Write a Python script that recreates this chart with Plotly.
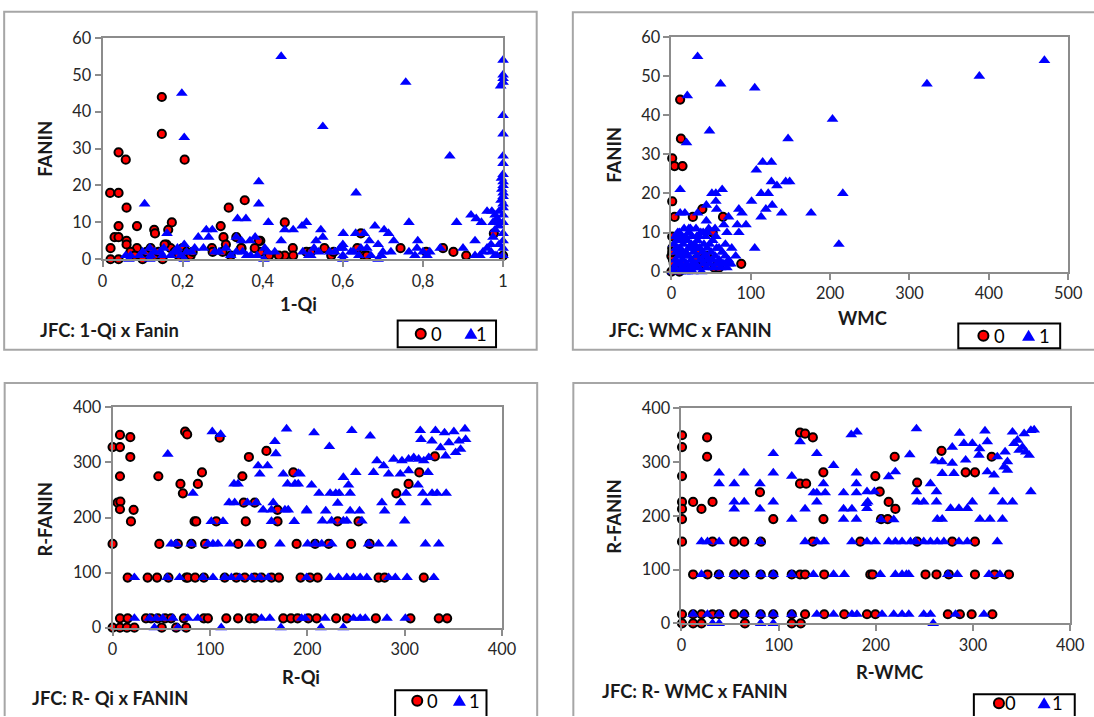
import plotly.graph_objects as go

# ---------------- data: JFC metrics, class 0 vs class 1 ----------------
# 1-Qi x FANIN
qi_fanin_0 = [
    (0.148, 44), (0.148, 34), (0.04, 29), (0.058, 27), (0.205, 27), (0.019, 18), (0.04, 18),
    (0.06, 14), (0.04, 9), (0.086, 9), (0.355, 16), (0.315, 14), (0.295, 9), (0.173, 10),
    (0.164, 8), (0.129, 8), (0.131, 7), (0.03, 6), (0.04, 6), (0.06, 5), (0.06, 4), (0.02, 3),
    (0.086, 3), (0.02, 0), (0.04, 0), (0.455, 10), (0.302, 6), (0.308, 4), (0.334, 6),
    (0.347, 3), (0.394, 5), (0.273, 3), (0.275, 2), (0.30, 2), (0.394, 2), (0.416, 1),
    (0.455, 1), (0.475, 3), (0.476, 1), (0.509, 2), (0.554, 3), (0.571, 1), (0.577, 2),
    (0.636, 3), (0.645, 7), (0.653, 1), (0.744, 3), (0.808, 2), (0.85, 3), (0.876, 2),
    (0.908, 1), (0.977, 7), (1.0, 1), (0.07, 2), (0.08, 1), (0.10, 0), (0.11, 2), (0.12, 3),
    (0.13, 1), (0.14, 2), (0.15, 0), (0.16, 4), (0.17, 3), (0.18, 2), (0.19, 1), (0.20, 3),
    (0.21, 2), (0.22, 1), (0.225, 2), (0.155, 4), (0.346, 3), (0.39, 5), (0.32, 1), (0.38, 3),
    (0.44, 1), (0.52, 2), (0.66, 1),
]
qi_fanin_1 = [
    (0.446, 55), (0.198, 45), (0.204, 33), (0.55, 36), (0.757, 48), (0.867, 28), (0.633, 18),
    (0.39, 21), (0.39, 15), (0.105, 15),
    (1, 54), (1, 50), (1, 49), (0.994, 47), (1, 48), (1, 39), (1, 34), (1, 28), (1, 26),
    (1, 23), (0.996, 22), (1, 21), (1, 20), (0.997, 19), (1, 18), (1, 17), (0.995, 16),
    (1, 15), (1, 14), (0.99, 13), (1, 12), (0.985, 11), (1, 10), (0.99, 9), (0.98, 8), (1, 7),
    (0.975, 6), (1, 5), (0.99, 4), (1, 3), (0.97, 2), (1, 1), (0.985, 1), (0.99, 10),
    (0.98, 12), (0.975, 10),
    (0.96, 13), (0.972, 13), (0.92, 12), (0.933, 11), (0.946, 10), (0.884, 10), (0.765, 10),
    (0.68, 9), (0.703, 8), (0.714, 7), (0.727, 5), (0.601, 7), (0.632, 7), (0.653, 7),
    (0.666, 5), (0.688, 4), (0.6, 4), (0.6, 3), (0.6, 1), (0.6, 0), (0.509, 10), (0.498, 9),
    (0.476, 8), (0.455, 8), (0.545, 8), (0.55, 6), (0.533, 5), (0.528, 3), (0.414, 10),
    (0.358, 11), (0.337, 11), (0.334, 6), (0.347, 5), (0.381, 6), (0.368, 5), (0.405, 3),
    (0.403, 0), (0.446, 5), (0.259, 8), (0.274, 8), (0.239, 6), (0.265, 6), (0.161, 7),
    (0.252, 3), (0.204, 4), (0.204, 0), (0.765, 2), (0.78, 1), (0.787, 5), (0.785, 3),
    (0.817, 2), (0.843, 3), (0.9, 3), (0.93, 5), (0.942, 1), (0.96, 3), (0.688, 0),
    (0.058, 1), (0.066, 0), (0.092, 1), (0.118, 0), (0.118, 3), (0.144, 2), (0.153, 3),
    (0.179, 2), (0.187, 3), (0.196, 1), (0.222, 2), (0.291, 2), (0.308, 3), (0.334, 2),
    (0.36, 1), (0.386, 1), (0.412, 2), (0.515, 1), (0.567, 2), (0.593, 3), (0.627, 2),
    (0.645, 3), (0.67, 1), (0.696, 1), (0.81, 1), (0.98, 1),
    (0.13, 2), (0.17, 1), (0.21, 2), (0.23, 3), (0.28, 2), (0.32, 1), (0.35, 2), (0.37, 1),
    (0.43, 2), (0.5, 2), (0.52, 1), (0.54, 2), (0.58, 2), (0.62, 2), (0.64, 1), (0.66, 3),
    (0.7, 2), (0.72, 2), (0.8, 2), (0.93, 1), (0.95, 2), (0.97, 4), (0.07, 1), (0.1, 2),
    (0.12, 1), (0.15, 1), (0.186, 2),
]

# WMC x FANIN
wmc_fanin_0 = [
    (11, 44), (12, 34), (1, 29), (4, 27), (14, 27), (1, 18), (4, 14), (27, 14), (39, 16),
    (65, 14), (52, 10), (1, 9), (1, 6), (0, 4), (88, 2), (54, 1), (0, 0), (2, 3), (5, 1),
    (30, 3), (40, 2), (60, 1), (1, 5), (3, 2), (10, 0), (20, 1), (58, 2), (45, 4), (35, 5),
    (15, 2),
]
wmc_fanin_1 = [
    (33, 55), (20, 45), (62, 48), (105, 47), (322, 48), (388, 50), (470, 54), (203, 39),
    (48, 36), (147, 34), (19, 33), (107, 26), (115, 28), (126, 28), (126, 23), (133, 22),
    (144, 23), (149, 23), (216, 20), (113, 20), (122, 20), (101, 18), (119, 16), (127, 17),
    (176, 15), (139, 15), (113, 14), (85, 16), (89, 15), (83, 12), (94, 12), (85, 10),
    (105, 6), (211, 7), (11, 21), (11, 15), (17, 15), (51, 20), (56, 20), (64, 21), (44, 17),
    (56, 18), (57, 16), (72, 14), (66, 12), (70, 10), (68, 7), (76, 6), (81, 4), (72, 2),
    (33, 15), (44, 13), (22, 11), (6, 6),
    (2, 0), (4, 1), (5, 3), (6, 5), (7, 8), (8, 10), (9, 2), (10, 4), (11, 6), (12, 9),
    (13, 1), (14, 3), (15, 7), (16, 11), (17, 0), (18, 5), (19, 2), (20, 8), (21, 4),
    (22, 10), (23, 1), (24, 6), (25, 3), (26, 9), (27, 0), (28, 5), (29, 7), (30, 2),
    (31, 11), (32, 4), (33, 8), (34, 1), (35, 6), (36, 3), (37, 10), (38, 0), (39, 5),
    (40, 2), (41, 7), (42, 4), (43, 9), (44, 1), (45, 6), (46, 3), (47, 11), (48, 2),
    (50, 5), (52, 8), (53, 1), (55, 4), (57, 6), (58, 2), (60, 3), (62, 1), (64, 5), (66, 2),
    (68, 4), (70, 1), (72, 3), (3, 7), (5, 9), (8, 6), (10, 10), (12, 2), (14, 8), (18, 9),
    (20, 0), (24, 11), (26, 2), (30, 6), (32, 9), (36, 6), (40, 10), (44, 4), (48, 7),
    (52, 3), (56, 9), (60, 6), (64, 2), (75, 2), (15, 4), (25, 7), (35, 9), (45, 10),
    (55, 11), (28, 1), (38, 3), (12, 5), (16, 1), (22, 6), (6, 2), (9, 8), (11, 0),
]

# R-Qi x R-FANIN
rqi_rfanin_0 = [
    (0, 328), (7.6, 328), (7.6, 350), (18.2, 346), (18.2, 310), (7.6, 275), (5.2, 227),
    (8, 229), (7.6, 215), (21.6, 214), (18.9, 193), (0, 152), (74.5, 356), (76.6, 351),
    (47, 275), (69.7, 261), (72.2, 244), (87.6, 261), (91.8, 282), (84.2, 193), (85.9, 193),
    (106.5, 193), (110, 345), (140, 310), (158, 321), (133.3, 275), (134.7, 227), (146, 227),
    (136.8, 193), (169.4, 214), (169.4, 193), (185.6, 282), (331, 311), (315, 282),
    (304, 261), (291.4, 244), (231.2, 193), (252.6, 193),
    (48, 152), (67, 152), (81, 152), (95, 152), (129, 152), (153, 152), (189, 152),
    (208, 152), (222, 152), (245, 152), (264, 152),
    (15.5, 91), (36, 91), (45.7, 91), (57.4, 91), (75.6, 91), (77.3, 91), (84.8, 91),
    (93.8, 91), (115.2, 91), (127.1, 91), (135.8, 91), (146, 91), (152.9, 91), (163.2, 91),
    (170.8, 91), (193.1, 91), (202.8, 91), (210.6, 91), (273.2, 91), (279.4, 91), (319.6, 91),
    (7.6, 17), (15.5, 17), (34.3, 17), (39.5, 17), (46.4, 17), (53.9, 17), (60.1, 17),
    (73.2, 17), (93.8, 17), (97.9, 17), (116.8, 17), (128.9, 17), (140.9, 17), (146, 17),
    (175.3, 17), (183.2, 17), (190, 17), (201, 17), (209.6, 17), (229.6, 17), (240.5, 17),
    (270.4, 17), (305.9, 17), (335, 17), (343.6, 17),
    (0, 0), (7.6, 0), (14.7, 0), (22.4, 0), (50.5, 0), (65.3, 0), (75.6, 0),
]
rqi_rfanin_1 = [
    (56.7, 315), (102.4, 356), (111, 351), (178.7, 361), (166.7, 338), (167.7, 316),
    (149.5, 294), (159.1, 294), (151.2, 279), (175.3, 279), (192.5, 279), (179.7, 261),
    (187.3, 261), (190.7, 261), (124.7, 261), (128.9, 261), (82.5, 244), (119.6, 227),
    (125.4, 227), (138.5, 227), (147.7, 227), (165, 227), (154.6, 214), (163.2, 214),
    (177, 214), (180.4, 214), (199.3, 214), (101.4, 193), (113.4, 193), (163.2, 193),
    (186.6, 193),
    (206.9, 354), (245.7, 358), (222.7, 329), (264.6, 348), (316, 358), (316.8, 342),
    (331.6, 358), (340.9, 354), (350.5, 356), (361.9, 361), (328, 339), (336.8, 327),
    (345.4, 336), (355.7, 339), (362.6, 342), (342, 312), (352.3, 318), (357.4, 324),
    (271.5, 303), (278.4, 294), (288.7, 306), (297.2, 303), (304, 306), (309.3, 309),
    (314.4, 306), (319.6, 303), (324.7, 309), (268, 282), (283.5, 279), (295.5, 279),
    (304, 285), (324, 282), (237, 273), (249.8, 282), (242.3, 259), (232.7, 244),
    (204.4, 259), (212, 244), (223.4, 244), (229.2, 244), (244, 244), (190.7, 280),
    (199.3, 212), (218.9, 212), (231.2, 226), (244, 212), (253.6, 212), (276.6, 227),
    (279.4, 212), (295.6, 227), (301.4, 244), (313.7, 259), (318.6, 244), (328.1, 244),
    (333.3, 244), (342.6, 244), (322, 227), (215.5, 194), (225, 194), (237, 194),
    (240.5, 194), (256, 194), (300, 194),
    (60.1, 152), (65.3, 152), (80.7, 152), (97.9, 152), (103.1, 152), (108.2, 152),
    (120.3, 152), (140.9, 152), (171.9, 152), (200.3, 152), (208, 152), (214.8, 152),
    (225, 152), (262.9, 152), (273.2, 152), (286.9, 152), (321.3, 152), (335, 152),
    (22.4, 91), (56, 91), (68.8, 91), (92.8, 91), (103.1, 91), (115.2, 91), (122, 91),
    (130.6, 91), (142.6, 91), (151.2, 91), (159.8, 91), (199.3, 91), (223.4, 91), (232, 91),
    (240.5, 91), (247.4, 91), (254.3, 91), (261.1, 91), (283.5, 91), (290.4, 91),
    (302.4, 91), (329.9, 91),
    (22.4, 17), (37.8, 17), (44.7, 17), (51.5, 17), (61.9, 17), (77.3, 17), (87.6, 17),
    (152.9, 17), (161.5, 17), (194.1, 17), (197.6, 17), (218.2, 17), (247.4, 17),
    (254.3, 17), (259.5, 17), (281.8, 17), (300.7, 17),
    (43, 0), (67, 0), (111.6, 0), (172.9, 0), (214, 0), (237, 0),
]

# R-WMC x R-FANIN
rwmc_rfanin_0 = [
    (0.6, 350), (0.6, 328), (0.6, 274), (0.6, 226), (0.6, 213), (0.6, 194), (0.6, 152),
    (0.6, 17), (0.6, 0), (26.4, 346), (26.4, 310), (12, 226), (20.6, 213), (32, 226),
    (80.8, 244), (122, 355), (127.2, 353), (135.2, 346), (122, 260), (128.3, 260),
    (146, 281), (94.5, 194), (146.1, 194), (267.6, 321), (219.4, 310), (199.5, 274),
    (204, 245), (213.2, 226), (220.1, 213), (242.5, 262), (292.4, 281), (302, 281),
    (319.2, 310), (205.4, 194), (212.2, 194),
    (32, 152), (54.3, 152), (64.6, 152), (81.8, 152), (135.2, 152), (184, 152),
    (242.5, 152), (278.6, 152), (302, 152),
    (12, 91), (26.8, 91), (38.5, 91), (54.3, 91), (64.6, 91), (81.5, 91), (94.5, 91),
    (113.5, 91), (122.1, 91), (127.2, 91), (146.9, 91), (194.3, 91), (196.7, 91),
    (251.1, 91), (262.4, 91), (275.1, 91), (302, 91), (322.3, 91), (337, 91),
    (12, 17), (20.6, 17), (32, 17), (38.8, 17), (54.3, 17), (64.6, 17), (81.5, 17),
    (94.5, 17), (113.5, 17), (127.2, 17), (146.9, 17), (167.5, 17), (190.9, 17),
    (199.5, 17), (274.1, 17), (286.5, 17), (298.6, 17), (319.9, 17),
    (12, 0), (20.6, 0), (65.3, 0), (113.5, 0), (122.8, 0),
]
rwmc_rfanin_1 = [
    (174.7, 351), (180.6, 356), (122, 338), (94.5, 316), (139.3, 316), (156.5, 294),
    (38.8, 280), (64.3, 280), (94.5, 280), (113.5, 274), (180, 280), (38.8, 260),
    (54.3, 260), (80.8, 260), (146.1, 260), (180, 260), (54.3, 226), (64.6, 226),
    (94.5, 226), (139.3, 226), (191.7, 226), (54.3, 213), (80.8, 213), (127.2, 213),
    (166.8, 213), (175.4, 213), (135.8, 243), (139.3, 243), (147.9, 243), (166.8, 243),
    (180, 243), (113.5, 194), (166.8, 194), (180, 194),
    (241.8, 362), (286.2, 354), (312.3, 358), (234.9, 314), (261.4, 302), (268.3, 301),
    (278.6, 298), (292.4, 304), (306.8, 325), (314.7, 338), (325, 310), (333, 319),
    (340.6, 356), (345.7, 341), (352.6, 353), (359.5, 359), (362.9, 360), (278.6, 328),
    (290.6, 335), (299.3, 335), (306.1, 313), (335.4, 285), (321.6, 276), (314.7, 282),
    (280.3, 279), (268.3, 279), (342.2, 335), (347.4, 322), (354.3, 319), (357.7, 313),
    (335.4, 301), (332, 291), (350.9, 328), (213.2, 273), (220.1, 282), (190.9, 245),
    (198.5, 245), (241.8, 245), (256.2, 260), (262.4, 245), (242.5, 226), (249.3, 226),
    (262.4, 226), (276.9, 214), (285.5, 214), (294.1, 214), (299.3, 226), (330.3, 226),
    (340.6, 226), (359.5, 245), (321.6, 245), (263.2, 194), (268.3, 194), (307.1, 194),
    (317.4, 194), (330.3, 194), (190.2, 223), (190.9, 214), (205.4, 193), (218.4, 193),
    (20.6, 152), (26.8, 152), (38.8, 152), (80.8, 152), (127.2, 152), (139.3, 152),
    (146.9, 152), (175.4, 152), (190.9, 152), (199.5, 152), (213.2, 152), (220.1, 152),
    (227, 152), (235.6, 152), (240.8, 152), (249.3, 152), (256.2, 152), (263.2, 152),
    (270, 152), (285.5, 152), (294.1, 152), (325, 152),
    (20.6, 91), (38.8, 91), (54.3, 91), (64.6, 91), (81.8, 91), (94.5, 91), (113.5, 91),
    (135.8, 91), (156.5, 91), (167.5, 91), (204.6, 91), (220.1, 91), (227, 91), (231.5, 91),
    (233.9, 91), (274.1, 91), (283.9, 91), (316.4, 91), (327.7, 91),
    (12, 17), (26.8, 17), (38.8, 17), (64.3, 17), (81.5, 17), (94.5, 17), (113.5, 17),
    (139.3, 17), (156.5, 17), (175.4, 17), (180.6, 17), (206.4, 17), (218.4, 17), (227, 17),
    (233.9, 17), (249.3, 17), (256.2, 17), (282, 17), (311.2, 17),
    (32, 0), (38.8, 0), (81.5, 0), (94.5, 0), (259, 0),
]

qi_ticks = [0, 0.2, 0.4, 0.6, 0.8, 1]
qi_ticktext = ["0", "0,2", "0,4", "0,6", "0,8", "1"]
class_names = ["0", "1"]

# ---------------- layout helpers ----------------
# positions below are given in screen pixels of a 1094x717 view; the page is shown
# slightly reduced (factor VIEW_SCALE) and the body keeps its default 8px margin
VIEW_W, VIEW_H = 1094, 717
VIEW_SCALE = 0.979
BODY_MARGIN = 8
W = int(round(VIEW_W / VIEW_SCALE - 2 * BODY_MARGIN))
H = int(round(VIEW_H / VIEW_SCALE - 2 * BODY_MARGIN))
K = 1 / VIEW_SCALE  # size factor for fonts and glyphs
FONT = "Lato, 'Open Sans', sans-serif"
GREY = "#8c8c8c"
RED, BLUE = "#ff0000", "#0000ff"


def px(x):
    """screen x (pixels) -> paper fraction"""
    return (x / VIEW_SCALE - BODY_MARGIN) / W


def py(y):
    """screen y (pixels, from top) -> paper fraction"""
    return 1 - (y / VIEW_SCALE - BODY_MARGIN) / H


panels = [
    dict(d0=qi_fanin_0, d1=qi_fanin_1, xr=[0, 1], yr=[0, 60], xd=(105, 504), yd=(258.5, 36),
         xdt=0.2, ydt=10),
    dict(d0=wmc_fanin_0, d1=wmc_fanin_1, xr=[0, 500], yr=[0, 60], xd=(671.7, 1067), yd=(271, 35),
         xdt=100, ydt=10),
    dict(d0=rqi_rfanin_0, d1=rqi_rfanin_1, xr=[0, 400], yr=[0, 400], xd=(115, 503), yd=(629, 407.5),
         xdt=100, ydt=100),
    dict(d0=rwmc_rfanin_0, d1=rwmc_rfanin_1, xr=[0, 400], yr=[0, 400], xd=(681.7, 1069), yd=(624.7, 408.5),
         xdt=100, ydt=100),
]

fig = go.Figure()
layout = dict(
    width=W, height=H, margin=dict(l=0, r=0, t=0, b=0),
    paper_bgcolor="white", plot_bgcolor="white",
    font=dict(family=FONT, color="#262626", size=16 * K),
    showlegend=False,
)

for i, p in enumerate(panels):
    n = "" if i == 0 else str(i + 1)
    xa, ya = "x" + n, "y" + n
    fig.add_trace(go.Scatter(
        x=[v[0] for v in p["d0"]], y=[v[1] for v in p["d0"]], xaxis=xa, yaxis=ya,
        mode="markers", name=class_names[0], cliponaxis=False,
        marker=dict(symbol="circle", size=8 * K, color=RED, line=dict(color="black", width=2)),
    ))
    fig.add_trace(go.Scatter(
        x=[v[0] for v in p["d1"]], y=[v[1] for v in p["d1"]], xaxis=xa, yaxis=ya,
        mode="markers", name=class_names[1], cliponaxis=False,
        marker=dict(symbol="triangle-up", size=10 * K, color=BLUE, line=dict(width=0)),
    ))
    axis_common = dict(
        showline=True, linecolor=GREY, linewidth=2, mirror=True,
        ticks="outside", ticklen=6, tickwidth=2, tickcolor=GREY,
        showgrid=False, zeroline=False, tickfont=dict(size=16 * K, family=FONT, color="#262626"),
        fixedrange=True,
    )
    xaxis = dict(axis_common, domain=[px(p["xd"][0]), px(p["xd"][1])], range=p["xr"],
                 anchor=ya, tick0=0, dtick=p["xdt"])
    if i == 0:
        xaxis.update(tickmode="array", tickvals=qi_ticks, ticktext=qi_ticktext)
    yaxis = dict(axis_common, domain=[py(p["yd"][0]), py(p["yd"][1])], range=p["yr"],
                 anchor=xa, tick0=0, dtick=p["ydt"])
    layout["xaxis" + n] = xaxis
    layout["yaxis" + n] = yaxis

fig.update_layout(**layout)

# panel frames (the right-hand and lower ones run off the edge of the view)
frames = [(7, 9.5, 537.5, 349.5), (573.5, 10, 1110, 349.5), (7.5, 383, 538, 740), (574, 383, 1110, 740)]
for x0, y0, x1, y1 in frames:
    fig.add_shape(type="rect", xref="paper", yref="paper", x0=px(x0), y0=py(y0), x1=px(x1), y1=py(y1),
                  line=dict(color="#a6a6a6", width=2), fillcolor="rgba(0,0,0,0)", layer="below")

# boxed keys: (left, top, right, bottom, row centre y, circle dx, "0" dx, triangle dx, "1" dx)
keys = [
    (399, 320, 497, 347, 333.5, 23, 39, 73, 84),
    (957.5, 323, 1059, 348, 335.5, 25, 41, 70, 86),
    (396.5, 692, 487.5, 740, 702.5, 22, 37, 64, 79),
    (973, 696, 1073.5, 740, 705, 25, 37, 70, 83),
]
for x0, y0, x1, y1, cy, dc, d0, dt, d1 in keys:
    fig.add_shape(type="rect", xref="paper", yref="paper", x0=px(x0), y0=py(y0), x1=px(x1), y1=py(y1),
                  line=dict(color="black", width=2), fillcolor="white", layer="above")
    cx = x0 + dc
    fig.add_shape(type="circle", xref="paper", yref="paper",
                  x0=px(cx - 5), x1=px(cx + 5), y0=py(cy + 5), y1=py(cy - 5),
                  line=dict(color="black", width=2), fillcolor=RED, layer="above")
    tx = x0 + dt
    tri = "M %f %f L %f %f L %f %f Z" % (px(tx - 6.5), py(cy + 5), px(tx + 6.5), py(cy + 5),
                                          px(tx), py(cy - 6))
    fig.add_shape(type="path", xref="paper", yref="paper", path=tri,
                  line=dict(width=0), fillcolor=BLUE, layer="above")
    for name, dx in zip(class_names, (d0, d1)):
        fig.add_annotation(text=name, xref="paper", yref="paper", x=px(x0 + dx), y=py(cy),
                           xanchor="center", yanchor="middle", showarrow=False,
                           font=dict(size=18 * K, family=FONT, color="black"))

# axis titles and panel captions
labels = [
    ("FANIN", 48, 147, -90, "center"),
    ("1-Qi", 300, 304, 0, "center"),
    ("JFC: 1-Qi x Fanin", 41, 330, 0, "left"),
    ("FANIN", 615, 153, -90, "center"),
    ("WMC", 862, 318, 0, "center"),
    ("JFC: WMC x FANIN", 608, 330, 0, "left"),
    ("R-FANIN", 48, 520, -90, "center"),
    ("R-Qi", 303, 679, 0, "center"),
    ("JFC: R- Qi x FANIN", 33, 700, 0, "left"),
    ("R-FANIN", 615, 517, -90, "center"),
    ("R-WMC", 889, 674, 0, "center"),
    ("JFC: R- WMC x FANIN", 601, 693, 0, "left"),
]
for text, x, y, ang, anchor in labels:
    fig.add_annotation(text="<b>%s</b>" % text, xref="paper", yref="paper", x=px(x), y=py(y),
                       xanchor=anchor, yanchor="middle", textangle=ang, showarrow=False,
                       font=dict(size=18 * K, family=FONT, color="#1a1a1a"))

fig.write_html("out.html")
